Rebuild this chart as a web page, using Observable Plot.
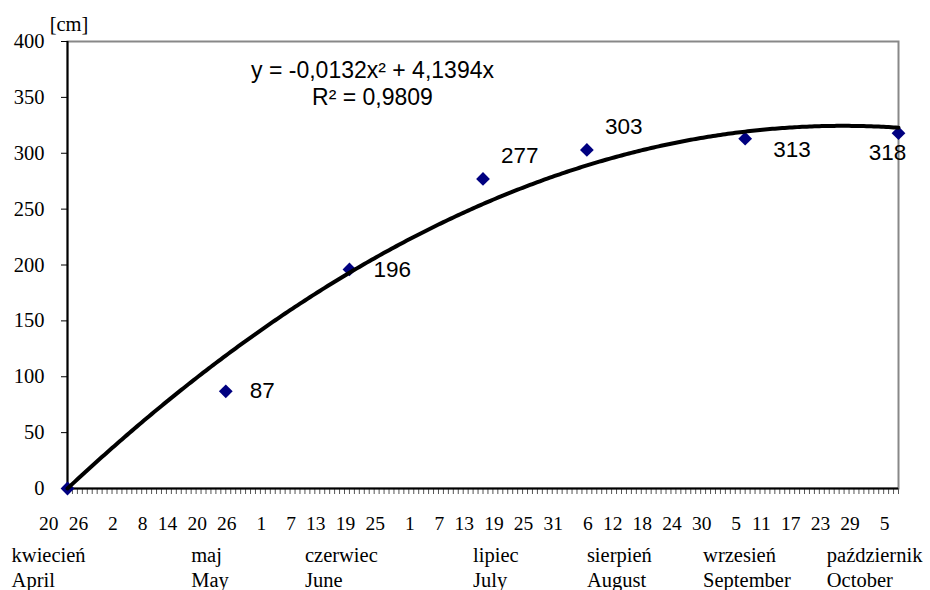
<!DOCTYPE html>
<html>
<head>
<meta charset="utf-8">
<script src="https://cdn.jsdelivr.net/npm/d3@7"></script>
<script src="https://cdn.jsdelivr.net/npm/@observablehq/plot@0.6"></script>
<style>
  html, body { margin: 0; padding: 0; background: #fff; }
  #chart svg { display: block; }
</style>
</head>
<body>
<div id="chart"></div>
<script>
// ---- data (days counted from 20 April) ----
const measureDays = [0, 32, 57, 84, 105, 137, 168];
const heightsCm   = [0, 87, 196, 277, 303, 313, 318];

const trendA = -0.0132;
const trendB = 4.1394;
const equationText = "y = -0,0132x² + 4,1394x";
const rSquaredText = "R² = 0,9809";
const yUnit = "[cm]";

const yTicks = [0, 50, 100, 150, 200, 250, 300, 350, 400];
const tickDays = [0, 6, 12, 18, 24, 30, 36, 42, 48, 54, 60, 66, 72, 78, 84, 90, 96, 102, 108, 114, 120, 126, 132, 138, 144, 150, 156, 162, 168];
const tickLabels = ["20","26","2","8","14","20","26","1","7","13","19","25","1","7","13","19","25","31","6","12","18","24","30","5","11","17","23","29","5"];
const monthsPL = ["kwiecień", "maj", "czerwiec", "lipiec", "sierpień", "wrzesień", "październik"];
const monthsEN = ["April", "May", "June", "July", "August", "September", "October"];
const monthLabelDays = [-11.3, 25, 48, 82, 105, 128.5, 153.5];

// ---- derived tables ----
const points = measureDays.map((d, i) => ({day: d, cm: heightsCm[i]}));
const trendDays = d3.range(0, 168.001, 0.5);
const minorDays = d3.range(0, 169, 1);
const ticksTable = tickDays.map((d, i) => ({day: d, label: tickLabels[i]}));
const monthsTable = monthsPL.map((m, i) => ({day: monthLabelDays[i], pl: m, en: monthsEN[i]}));

const serif = "'Liberation Serif', 'Times New Roman', serif";
const sans = "'Liberation Sans', Arial, sans-serif";

const chart = Plot.plot({
  width: 930,
  height: 590,
  marginLeft: 67,
  marginRight: 32,
  marginTop: 41,
  marginBottom: 102,
  x: {domain: [0, 168]},
  y: {domain: [0, 400]},
  style: {fontFamily: serif, background: "#fff", color: "#000", overflow: "visible"},
  marks: [
    Plot.frame({stroke: "#888", strokeWidth: 2}),
    Plot.axisY({ticks: yTicks, tickSize: 6, tickPadding: 17, fontSize: 20.5, label: null, tickFormat: d => String(d), fontFamily: serif}),
    Plot.axisX({ticks: minorDays, tickSize: 6, stroke: "#555", tickFormat: () => "", label: null}),
    Plot.ruleX([0], {stroke: "#000", strokeWidth: 2}),
    Plot.ruleY([0], {stroke: "#000", strokeWidth: 2}),
    Plot.text(ticksTable, {x: "day", text: "label", frameAnchor: "bottom", dy: 35, dx: -9, textAnchor: "end", lineAnchor: "middle", fontSize: 19.5, fontFamily: serif}),
    Plot.text(monthsTable, {x: "day", text: "pl", frameAnchor: "bottom", dy: 67, textAnchor: "start", lineAnchor: "middle", fontSize: 20.5, fontFamily: serif}),
    Plot.text(monthsTable, {x: "day", text: "en", frameAnchor: "bottom", dy: 92, textAnchor: "start", lineAnchor: "middle", fontSize: 20.5, fontFamily: serif}),
    Plot.text([yUnit], {frameAnchor: "top-left", dx: 1.5, dy: -17, textAnchor: "middle", lineAnchor: "middle", fontSize: 20.5, fontFamily: serif}),
    Plot.dot(points, {x: "day", y: "cm", symbol: "diamond2", r: 6.2, fill: "#000080", stroke: "none"}),
    Plot.line(trendDays, {x: d => d, y: d => trendA * d * d + trendB * d, stroke: "#000", strokeWidth: 4, curve: "linear"}),
    // data labels
    Plot.text(points.filter(p => p.cm === 87 || p.cm === 196), {x: "day", y: "cm", text: d => String(d.cm), dx: 24, textAnchor: "start", lineAnchor: "middle", fontSize: 22.5, fontFamily: sans}),
    Plot.text(points.filter(p => p.cm === 277 || p.cm === 303), {x: "day", y: "cm", text: d => String(d.cm), dx: 18, dy: -23, textAnchor: "start", lineAnchor: "middle", fontSize: 22.5, fontFamily: sans}),
    Plot.text(points.filter(p => p.cm === 313), {x: "day", y: "cm", text: d => String(d.cm), dx: 28, dy: 11, textAnchor: "start", lineAnchor: "middle", fontSize: 22.5, fontFamily: sans}),
    Plot.text(points.filter(p => p.cm === 318), {x: "day", y: "cm", text: d => String(d.cm), dx: -11, dy: 20, textAnchor: "middle", lineAnchor: "middle", fontSize: 22.5, fontFamily: sans}),
    // trendline equation
    Plot.text([equationText], {frameAnchor: "top-left", dx: 305, dy: 29, textAnchor: "middle", lineAnchor: "middle", fontSize: 23, fontFamily: sans}),
    Plot.text([rSquaredText], {frameAnchor: "top-left", dx: 305, dy: 56, textAnchor: "middle", lineAnchor: "middle", fontSize: 23, fontFamily: sans})
  ]
});

document.getElementById("chart").appendChild(chart);
</script>
</body>
</html>
